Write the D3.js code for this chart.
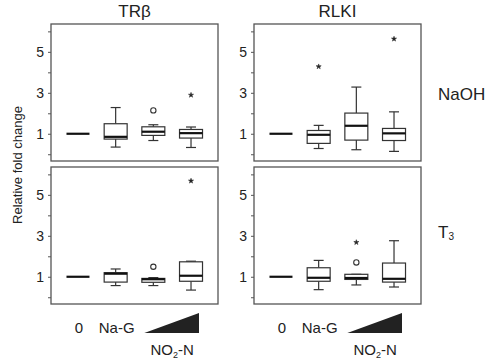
<!DOCTYPE html>
<html>
<head>
<meta charset="utf-8">
<script src="https://cdn.jsdelivr.net/npm/d3@7"></script>
<style>
  body { margin: 0; background: #fff; }
  svg { font-family: Arial, "Liberation Sans", sans-serif; }
</style>
</head>
<body>
<svg id="chart"></svg>
<script>
// groups along the x axis (the last two are the rising NO2-N doses)
const groups = ["0", "Na-G", "NO2-N low", "NO2-N high"];
const genes = ["TRβ", "RLKI"];
const treatments = ["NaOH", "T3"];
const yTicks = [0, 1, 2, 3, 4, 5, 6];
const yTickLabels = [1, 3, 5];

// box stats per group: [whisker low, q1, median, q3, whisker high]
const trbNaoh = [
  [1, 1, 1, 1, 1],
  [0.35, 0.74, 0.85, 1.49, 2.28],
  [0.67, 0.92, 1.1, 1.34, 1.44],
  [0.33, 0.79, 1.03, 1.21, 1.33],
];
const rlkiNaoh = [
  [1, 1, 1, 1, 1],
  [0.28, 0.53, 0.95, 1.16, 1.41],
  [0.22, 0.69, 1.39, 2.01, 3.28],
  [0.14, 0.67, 1.02, 1.26, 2.07],
];
const trbT3 = [
  [1, 1, 1, 1, 1],
  [0.57, 0.74, 1.15, 1.2, 1.38],
  [0.57, 0.73, 0.88, 0.92, 0.96],
  [0.35, 0.78, 1.05, 1.73, 1.76],
];
const rlkiT3 = [
  [1, 1, 1, 1, 1],
  [0.37, 0.78, 0.95, 1.44, 1.8],
  [0.6, 0.87, 0.94, 1.12, 1.12],
  [0.5, 0.74, 0.9, 1.67, 2.76],
];

// outliers: [group index, value, kind] ("o" = outlier, "*" = extreme)
const trbNaohOut = [[2, 2.14, "o"], [3, 2.89, "*"]];
const rlkiNaohOut = [[1, 4.28, "*"], [3, 5.63, "*"]];
const trbT3Out = [[2, 1.49, "o"], [3, 5.68, "*"]];
const rlkiT3Out = [[2, 2.68, "*"], [2, 1.7, "o"]];

class BoxPanel {
  constructor(_config, _boxes, _outliers) {
    this.config = {
      svg: _config.svg,
      left: _config.left,
      top: _config.top,
      width: _config.width || 167,
      height: _config.height || 137,
      showGroupLabels: _config.showGroupLabels || false,
    };
    this.boxes = _boxes;
    this.outliers = _outliers;
    this.initVis();
  }

  initVis() {
    let vis = this;
    const c = vis.config;

    vis.xScale = d3
      .scalePoint()
      .domain(groups)
      .range([c.left, c.left + c.width])
      .padding(0.716);

    vis.yScale = d3
      .scaleLinear()
      .domain([-0.33, 6.36])
      .range([c.top + c.height, c.top]);

    vis.yAxis = d3
      .axisLeft(vis.yScale)
      .tickValues(yTicks)
      .tickSize(3)
      .tickPadding(4)
      .tickFormat((d) => (yTickLabels.includes(d) ? d : ""));

    vis.g = c.svg.append("g");

    // frame
    vis.g
      .append("rect")
      .attr("x", c.left)
      .attr("y", c.top)
      .attr("width", c.width)
      .attr("height", c.height)
      .attr("fill", "none")
      .attr("stroke", "#555")
      .attr("stroke-width", 1.3);

    vis.yAxisGroup = vis.g
      .append("g")
      .attr("transform", `translate(${c.left},0)`)
      .call(vis.yAxis);
    vis.yAxisGroup.select(".domain").remove();
    vis.yAxisGroup.selectAll("line").attr("stroke", "#555");
    vis.yAxisGroup
      .selectAll("text")
      .attr("font-size", 14)
      .attr("font-family", "Arial, 'Liberation Sans', sans-serif")
      .attr("fill", "#222");

    vis.renderVis();
  }

  renderVis() {
    let vis = this;
    const x = vis.xScale;
    const y = vis.yScale;
    const bw = x.step() * 0.61;
    const cap = 5;

    const boxData = vis.boxes.map((s, i) => ({ group: groups[i], s: s, i: i }));

    // control group is only a flat line at 1
    vis.g
      .selectAll(".control")
      .data(boxData.filter((d) => d.i === 0))
      .join("line")
      .attr("class", "control")
      .attr("x1", (d) => x(d.group) - bw / 2)
      .attr("x2", (d) => x(d.group) + bw / 2)
      .attr("y1", (d) => y(d.s[2]))
      .attr("y2", (d) => y(d.s[2]))
      .attr("stroke", "#111")
      .attr("stroke-width", 2.2);

    const box = vis.g
      .selectAll(".box")
      .data(boxData.filter((d) => d.i > 0))
      .join("g")
      .attr("class", "box")
      .attr("stroke", "#333")
      .attr("stroke-width", 1.2)
      .attr("fill", "none");

    // whiskers
    box
      .append("line")
      .attr("x1", (d) => x(d.group))
      .attr("x2", (d) => x(d.group))
      .attr("y1", (d) => y(d.s[0]))
      .attr("y2", (d) => y(d.s[1]));
    box
      .append("line")
      .attr("x1", (d) => x(d.group))
      .attr("x2", (d) => x(d.group))
      .attr("y1", (d) => y(d.s[3]))
      .attr("y2", (d) => y(d.s[4]));
    box
      .selectAll(".cap")
      .data((d) => [
        [d.group, d.s[0]],
        [d.group, d.s[4]],
      ])
      .join("line")
      .attr("class", "cap")
      .attr("x1", (d) => x(d[0]) - cap)
      .attr("x2", (d) => x(d[0]) + cap)
      .attr("y1", (d) => y(d[1]))
      .attr("y2", (d) => y(d[1]));

    box
      .append("rect")
      .attr("x", (d) => x(d.group) - bw / 2)
      .attr("width", bw)
      .attr("y", (d) => y(d.s[3]))
      .attr("height", (d) => y(d.s[1]) - y(d.s[3]))
      .attr("fill", "#fff");

    box
      .append("line")
      .attr("x1", (d) => x(d.group) - bw / 2)
      .attr("x2", (d) => x(d.group) + bw / 2)
      .attr("y1", (d) => y(d.s[2]))
      .attr("y2", (d) => y(d.s[2]))
      .attr("stroke", "#111")
      .attr("stroke-width", 2.2);

    // outliers
    vis.g
      .selectAll(".outlier")
      .data(vis.outliers)
      .join("path")
      .attr("class", "outlier")
      .attr("transform", (d) => `translate(${x(groups[d[0]])},${y(d[1])})`)
      .attr("d", (d) =>
        d[2] === "*"
          ? d3.symbol(d3.symbolStar).size(8)()
          : d3.symbol(d3.symbolCircle).size(22)()
      )
      .attr("fill", (d) => (d[2] === "*" ? "#222" : "#fff"))
      .attr("stroke", "#333")
      .attr("stroke-width", (d) => (d[2] === "*" ? 0.6 : 1.1));

    if (vis.config.showGroupLabels) vis.renderGroupLabels();
  }

  renderGroupLabels() {
    let vis = this;
    const x = vis.xScale;
    const base = 333;

    vis.g
      .append("text")
      .attr("x", x(groups[0]) + 1)
      .attr("y", base)
      .attr("text-anchor", "middle")
      .attr("font-size", 15)
      .attr("fill", "#222")
      .text("0");
    vis.g
      .append("text")
      .attr("x", x(groups[1]) + 1)
      .attr("y", base)
      .attr("text-anchor", "middle")
      .attr("font-size", 15)
      .attr("fill", "#222")
      .text("Na-G");

    // dose wedge for NO2-N
    const x0 = x(groups[2]) - 9;
    const x1 = x(groups[3]) + 8;
    vis.g
      .append("path")
      .attr("d", `M${x0},${base}L${x1},${base - 20}L${x1},${base}Z`)
      .attr("fill", "#222");

    const no2 = vis.g
      .append("text")
      .attr("x", (x(groups[2]) + x(groups[3])) / 2)
      .attr("y", 355)
      .attr("text-anchor", "middle")
      .attr("font-size", 15)
      .attr("fill", "#222");
    no2.append("tspan").text("NO");
    no2.append("tspan").attr("font-size", 9).attr("dy", 3).text("2");
    no2.append("tspan").attr("dy", -3).text("-N");
  }
}

const svg = d3.select("#chart").attr("width", 490).attr("height", 362);

const panelLefts = [51, 254];
const panelTops = [24, 167];

new BoxPanel({ svg: svg, left: panelLefts[0], top: panelTops[0] }, trbNaoh, trbNaohOut);
new BoxPanel({ svg: svg, left: panelLefts[1], top: panelTops[0] }, rlkiNaoh, rlkiNaohOut);
new BoxPanel(
  { svg: svg, left: panelLefts[0], top: panelTops[1], showGroupLabels: true },
  trbT3,
  trbT3Out
);
new BoxPanel(
  { svg: svg, left: panelLefts[1], top: panelTops[1], showGroupLabels: true },
  rlkiT3,
  rlkiT3Out
);

// column titles
svg
  .selectAll(".gene")
  .data(genes)
  .join("text")
  .attr("class", "gene")
  .attr("x", (d, i) => panelLefts[i] + 167 / 2)
  .attr("y", 17)
  .attr("text-anchor", "middle")
  .attr("font-size", 17)
  .attr("fill", "#222")
  .text((d) => d);

// row titles
svg
  .append("text")
  .attr("x", 438)
  .attr("y", 100)
  .attr("font-size", 17)
  .attr("fill", "#222")
  .text(treatments[0]);

const t3 = svg
  .append("text")
  .attr("x", 438)
  .attr("y", 238)
  .attr("font-size", 17)
  .attr("fill", "#222");
t3.append("tspan").text("T");
t3.append("tspan").attr("font-size", 10).attr("dy", 2).text("3");

// y axis title
svg
  .append("text")
  .attr("transform", "translate(22,165) rotate(-90)")
  .attr("text-anchor", "middle")
  .attr("font-size", 13)
  .attr("fill", "#222")
  .text("Relative fold change");
</script>
</body>
</html>
